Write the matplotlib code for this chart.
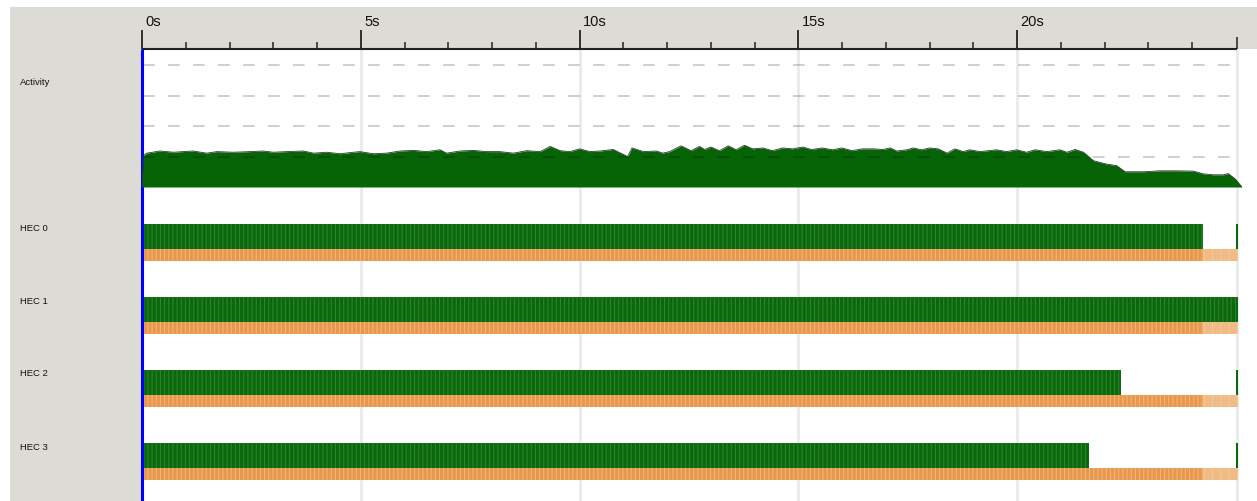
import matplotlib
matplotlib.use("Agg")
import matplotlib.pyplot as plt
from matplotlib.patches import Rectangle

# ---------------- data ----------------
activity_t = [0.0, 0.03, 0.11, 0.41, 0.72, 0.94, 1.17, 1.48, 1.71, 2.09, 2.47, 2.77, 3.0, 3.31,
              3.69, 3.92, 4.22, 4.53, 4.83, 4.98, 5.29, 5.59, 5.9, 6.2, 6.51, 6.81, 6.96, 7.27,
              7.57, 7.88, 8.18, 8.49, 8.79, 9.10, 9.33, 9.56, 9.78, 10.0, 10.24, 10.47, 10.77,
              11.1, 11.2, 11.46, 11.76, 11.9, 12.06, 12.32, 12.55, 12.74, 12.86, 13.0, 13.2,
              13.4, 13.58, 13.77, 13.96, 14.19, 14.41, 14.64, 14.87, 15.1, 15.3, 15.55, 15.78,
              16.0, 16.23, 16.46, 16.72, 16.94, 17.1, 17.25, 17.48, 17.63, 17.82, 18.0, 18.2,
              18.4, 18.58, 18.77, 18.92, 19.15, 19.53, 19.76, 19.99, 20.22, 20.41, 20.68,
              20.98, 21.14, 21.33, 21.52, 21.75, 22.05, 22.28, 22.47, 22.89, 23.27, 23.65,
              24.03, 24.26, 24.49, 24.72, 24.83, 24.99, 25.14]
activity_v = [0.0, 1.03, 1.11, 1.18, 1.14, 1.16, 1.18, 1.11, 1.16, 1.14, 1.16, 1.18, 1.14, 1.16,
              1.18, 1.11, 1.14, 1.09, 1.14, 1.16, 1.09, 1.11, 1.18, 1.20, 1.16, 1.22, 1.11, 1.18,
              1.20, 1.16, 1.16, 1.11, 1.19, 1.16, 1.33, 1.19, 1.16, 1.25, 1.16, 1.18, 1.23,
              1.00, 1.28, 1.16, 1.18, 1.11, 1.16, 1.35, 1.19, 1.33, 1.23, 1.31, 1.19,
              1.35, 1.22, 1.37, 1.25, 1.28, 1.19, 1.28, 1.25, 1.31, 1.23, 1.28, 1.22,
              1.28, 1.19, 1.25, 1.25, 1.23, 1.28, 1.18, 1.22, 1.28, 1.22, 1.28, 1.25,
              1.11, 1.25, 1.16, 1.22, 1.16, 1.22, 1.16, 1.22, 1.14, 1.22, 1.16,
              1.22, 1.14, 1.23, 1.14, 0.86, 0.75, 0.70, 0.50, 0.50, 0.53, 0.53,
              0.52, 0.43, 0.40, 0.40, 0.44, 0.26, 0.0]

hec_names = ["HEC 0", "HEC 1", "HEC 2", "HEC 3"]
# running intervals per HEC (start s, end s)
hec_run = [[(0.0, 24.25), (25.0, 25.05)],
           [(0.0, 25.05)],
           [(0.0, 22.38), (25.0, 25.05)],
           [(0.0, 21.65), (25.0, 25.05)]]
# GC intervals (dense) and sparse tail
gc_dense = [(0.0, 24.25)] * 4
gc_tail = [(24.25, 25.05)] * 4

major_ticks = [0, 5, 10, 15, 20]
minor_ticks = [1, 2, 3, 4, 6, 7, 8, 9, 11, 12, 13, 14, 16, 17, 18, 19, 21, 22, 23, 24]
tick_labels = ["0s", "5s", "10s", "15s", "20s"]
t_end = 25.03
activity_levels = [1, 2, 3, 4]

# ---------------- layout ----------------
W, H = 1257, 502
PX_PER_S = 43.75
X0 = 142

def rect(x0, y0, x1, y1):
    return [x0 / W, 1 - y1 / H, (x1 - x0) / W, (y1 - y0) / H]

t_left = (10 - X0) / PX_PER_S
t_right = (W - X0) / PX_PER_S

fig = plt.figure(figsize=(W / 100, H / 100), dpi=100)
fig.patch.set_facecolor("white")
gray = "#dcdbd6"
fig.add_artist(Rectangle((10 / W, 1 - 50 / H), (W - 10) / W, 42 / H,
                         transform=fig.transFigure, facecolor=gray, edgecolor="none", zorder=0))
fig.add_artist(Rectangle((10 / W, 0), (X0 - 10) / W, 1 - 8 / H,
                         transform=fig.transFigure, facecolor=gray, edgecolor="none", zorder=0))

ax = fig.add_axes(rect(10, 8, W, H))
ax.set_xlim(t_left, t_right)
ax.set_ylim(H, 8)
ax.axis("off")
ax.patch.set_visible(False)

# grid lines
ax.vlines(major_ticks[1:] + [t_end], 50, H, color="#e8e8e8", lw=1.8, zorder=1)
# time axis
ax.hlines(50, 0, t_end, color="#222222", lw=1.5, zorder=3)
ax.vlines(major_ticks, 31, 50, color="#222222", lw=1.3, zorder=3)
ax.vlines(minor_ticks, 43, 50, color="#222222", lw=1.1, zorder=3)
ax.vlines([t_end], 38, 50, color="#222222", lw=1.1, zorder=3)
for t, lab in zip(major_ticks, tick_labels):
    ax.text(t + 0.08, 22, lab, ha="left", va="center", fontsize=10.5,
            family="Liberation Sans", color="#111111")

# row labels
ax.text((20 - X0) / PX_PER_S, 82, "Activity", fontsize=6.8, family="Liberation Sans",
        va="center", ha="left", color="#111111")
for i, name in enumerate(hec_names):
    ax.text((20 - X0) / PX_PER_S, 228 + 73 * i, name, fontsize=6.8, family="Liberation Sans",
            va="center", ha="left", color="#111111")

# HEC bars
plt.rcParams["hatch.linewidth"] = 0.7
for i in range(4):
    gy = 225 + 73 * i
    for (s, e) in hec_run[i]:
        ax.barh(gy + 12.35, e - s, left=s, height=24.7, color="#0c680c",
                edgecolor="#2f862f", linewidth=0, hatch="||||", zorder=2)
    oy = 249.7 + 73 * i
    for (s, e) in [gc_dense[i]]:
        ax.barh(oy + 6.15, e - s, left=s, height=12.3, color="#e8984c",
                edgecolor="#f2b67c", linewidth=0, hatch="||||", zorder=2)
    for (s, e) in [gc_tail[i]]:
        ax.barh(oy + 6.15, e - s, left=s, height=12.3, color="#f0bb85",
                edgecolor="#f4c99c", linewidth=0, hatch="||", zorder=2)

# blue cursor line
ax.vlines([0], 50, H, color="#0000ff", lw=2.2, zorder=5)

# activity graph
axa = fig.add_axes(rect(10, 66, W, 188))
axa.set_xlim(t_left, t_right)
axa.set_ylim(0, 4)
axa.axis("off")
axa.patch.set_visible(False)
axa.fill_between(activity_t, activity_v, 0, color="#066306", lw=0, zorder=2)
axa.plot(activity_t, activity_v, color="#2c3a2c", lw=0.6, zorder=3)
axa.hlines(activity_levels, 0.02, 25.17, colors=[(0, 0, 0, 0.22)], lw=1.2,
           linestyles=[(0, (7, 8))], zorder=4, clip_on=False)

fig.savefig("out.png", dpi=100)
